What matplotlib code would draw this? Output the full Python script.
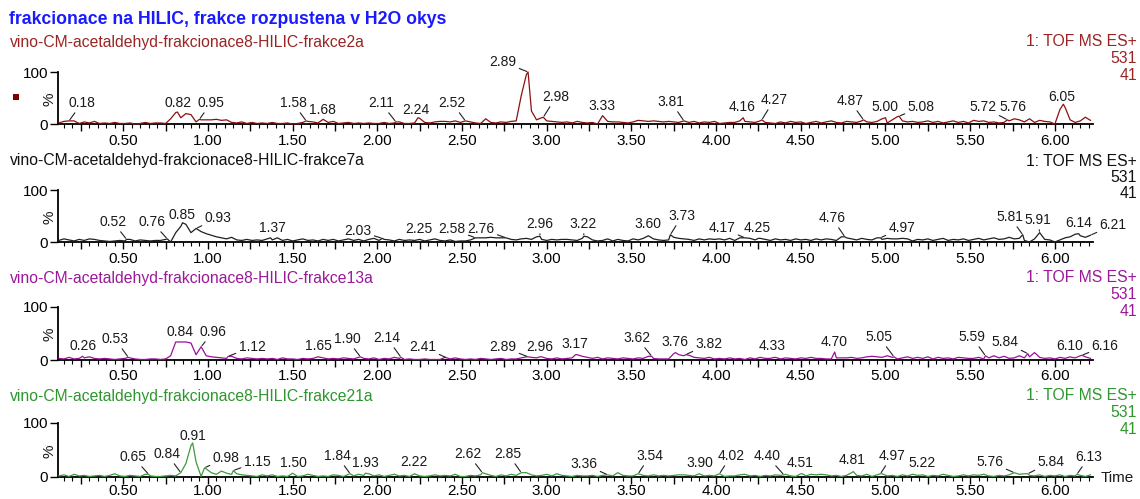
import numpy as np
import matplotlib
matplotlib.use("Agg")
import matplotlib.pyplot as plt
from matplotlib.patches import Rectangle

plt.rcParams['font.family'] = ['Liberation Sans', 'DejaVu Sans']

W, H = 1140, 499

title = "frakcionace na HILIC, frakce rozpustena v H2O okys"
sample_names = [
    "vino-CM-acetaldehyd-frakcionace8-HILIC-frakce2a",
    "vino-CM-acetaldehyd-frakcionace8-HILIC-frakce7a",
    "vino-CM-acetaldehyd-frakcionace8-HILIC-frakce13a",
    "vino-CM-acetaldehyd-frakcionace8-HILIC-frakce21a",
]
detector = "1: TOF MS ES+"
mass = "531"
scale_tag = "41"
x_tick_values = [0.50, 1.00, 1.50, 2.00, 2.50, 3.00, 3.50, 4.00, 4.50, 5.00, 5.50, 6.00]

# scan times (min) of the background trace
scan_t = np.round(0.12 + 0.03 * np.arange(204), 2)

trace_2a = [
    2, 5, 3, 6, 1, 4, 2, 5, 1, 2,
    1, 3, 1, 1, 2, 0, 1, 3, 1, 2,
    2, 1, 10, 22, 12, 20, 18, 4, 8, 8,
    8, 9, 7, 8, 3, 2, 4, 1, 3, 1,
    2, 1, 3, 1, 1, 2, 0, 1, 3, 5,
    4, 2, 9, 3, 5, 1, 2, 3, 1, 2,
    1, 2, 1, 1, 3, 1, 2, 4, 1, 1,
    2, 11, 3, 2, 4, 5, 5, 4, 6, 3,
    5, 4, 2, 1, 10, 3, 2, 4, 3, 5,
    6, 55, 95, 25, 8, 12, 6, 5, 4, 3,
    4, 2, 5, 3, 2, 3, 0, 16, 5, 4,
    4, 3, 2, 4, 7, 6, 5, 6, 5, 4,
    5, 4, 3, 6, 3, 5, 2, 4, 3, 5,
    1, 2, 3, 3, 6, 5, 4, 3, 6, 3,
    2, 1, 4, 2, 5, 3, 4, 1, 3, 5,
    2, 4, 6, 3, 2, 5, 4, 3, 6, 4,
    3, 5, 10, 2, 8, 14, 6, 4, 5, 3,
    4, 6, 3, 5, 2, 4, 6, 3, 5, 2,
    7, 5, 6, 3, 4, 2, 3, 6, 5, 8,
    4, 10, 3, 7, 5, 4, 0, 28, 32, 8,
    3, 6, 13, 7,
]
trace_7a = [
    3, 6, 4, 2, 5, 3, 6, 5, 3, 2,
    1, 2, 3, 2, 5, 2, 4, 3, 2, 3,
    3, 5, 0, 18, 30, 34, 18, 26, 20, 16,
    13, 10, 8, 6, 9, 4, 3, 5, 3, 4,
    3, 6, 4, 8, 3, 5, 2, 4, 6, 3,
    4, 2, 5, 3, 5, 2, 4, 6, 3, 5,
    2, 5, 7, 3, 5, 4, 2, 5, 3, 4,
    3, 5, 2, 4, 6, 3, 2, 4, 1, 2,
    2, 4, 6, 8, 8, 9, 8, 8, 3, 5,
    4, 6, 7, 5, 10, 5, 3, 5, 4, 5,
    5, 4, 3, 7, 10, 4, 2, 3, 6, 2,
    5, 3, 2, 6, 4, 7, 12, 6, 4, 3,
    4, 9, 7, 6, 5, 3, 6, 4, 6, 5,
    6, 4, 7, 3, 8, 6, 7, 4, 7, 5,
    3, 6, 4, 5, 3, 6, 4, 5, 3, 6,
    4, 6, 5, 3, 10, 8, 6, 4, 7, 5,
    4, 8, 5, 7, 6, 6, 7, 6, 2, 5,
    4, 6, 3, 5, 7, 3, 5, 4, 6, 3,
    5, 7, 4, 6, 8, 5, 6, 9, 6, 7,
    3, 0, 6, 18, 5, 4, 0, 4, 8, 10,
    15, 12, 9, 13,
]
trace_13a = [
    3, 2, 5, 2, 3, 4, 6, 3, 2, 3,
    2, 1, 2, 3, 4, 2, 1, 1, 2, 2,
    1, 2, 8, 34, 33, 34, 32, 10, 24, 8,
    6, 5, 4, 3, 7, 3, 2, 4, 3, 2,
    3, 2, 3, 1, 4, 2, 2, 1, 3, 2,
    3, 6, 4, 2, 3, 2, 4, 3, 2, 5,
    3, 2, 4, 1, 3, 2, 5, 3, 1, 2,
    1, 1, 2, 1, 1, 1, 5, 2, 4, 2,
    1, 2, 1, 3, 2, 1, 2, 3, 1, 2,
    2, 4, 6, 5, 4, 6, 3, 2, 4, 2,
    3, 4, 10, 7, 5, 3, 5, 2, 4, 3,
    2, 4, 3, 2, 4, 3, 7, 3, 2, 2,
    2, 12, 10, 8, 9, 5, 4, 3, 5, 2,
    3, 2, 4, 2, 3, 1, 4, 2, 5, 3,
    3, 5, 2, 4, 3, 2, 4, 3, 5, 3,
    3, 2, 2, 4, 4, 4, 5, 3, 4, 6,
    7, 6, 5, 8, 5, 2, 4, 6, 3, 5,
    3, 6, 2, 5, 3, 4, 2, 5, 4, 3,
    3, 5, 2, 4, 8, 4, 7, 3, 4, 8,
    4, 6, 14, 5, 3, 4, 2, 5, 3, 6,
    4, 8, 6, 3,
]
trace_21a = [
    2, 4, 1, 5, 2, 3, 1, 2, 3, 1,
    3, 6, 2, 1, 3, 2, 1, 5, 2, 1,
    1, 2, 3, 2, 8, 25, 58, 28, 1, 15,
    8, 5, 11, 7, 5, 6, 4, 3, 2, 1,
    4, 2, 4, 1, 2, 1, 7, 1, 2, 5,
    3, 1, 2, 1, 4, 3, 1, 5, 2, 5,
    3, 6, 2, 4, 1, 3, 5, 2, 3, 1,
    6, 2, 1, 2, 4, 2, 3, 2, 5, 1,
    1, 3, 2, 4, 6, 3, 1, 4, 2, 5,
    3, 6, 8, 4, 2, 3, 5, 2, 6, 3,
    2, 1, 3, 2, 2, 3, 1, 3, 5, 2,
    8, 3, 2, 2, 6, 3, 2, 4, 2, 3,
    2, 3, 4, 4, 3, 2, 6, 2, 3, 2,
    6, 1, 2, 2, 4, 5, 2, 3, 1, 3,
    2, 4, 3, 5, 2, 1, 6, 2, 5, 4,
    5, 4, 2, 3, 1, 3, 8, 3, 2, 5,
    1, 4, 6, 2, 3, 1, 4, 2, 5, 3,
    4, 1, 3, 2, 5, 3, 1, 2, 4, 2,
    4, 3, 5, 2, 1, 3, 2, 4, 8, 5,
    6, 3, 2, 4, 1, 3, 2, 4, 1, 3,
    2, 3, 1, 4,
]

# labelled peaks: retention time (min) and relative intensity (%)
peaks_2a_t = [0.18, 0.82, 0.95, 1.58, 1.68, 2.11, 2.24, 2.52, 2.89, 2.98,
              3.33, 3.81, 4.16, 4.27, 4.87, 5.00, 5.08, 5.72, 5.76, 6.05]
peaks_2a_h = [6, 23, 9, 6, 9, 4, 12, 6, 100, 13,
              16, 6, 12, 8, 8, 12, 15, 8, 10, 38]
peaks_7a_t = [0.52, 0.76, 0.85, 0.93, 1.37, 2.03, 2.25, 2.58, 2.76, 2.96, 3.22,
              3.60, 3.73, 4.17, 4.25, 4.76, 4.97, 5.81, 5.91, 6.14, 6.21]
peaks_7a_h = [5, 6, 37, 26, 8, 7, 5, 8, 8, 11, 11,
              12, 14, 8, 7, 10, 8, 14, 18, 16, 13]
peaks_13a_t = [0.26, 0.53, 0.84, 0.96, 1.12, 1.65, 1.90, 2.14, 2.41, 2.89, 2.96,
               3.17, 3.62, 3.76, 3.82, 4.33, 4.70, 5.05, 5.59, 5.84, 6.10, 6.16]
peaks_13a_h = [7, 5, 34, 25, 7, 6, 6, 5, 4, 6, 6,
               10, 7, 14, 10, 4, 15, 6, 8, 12, 5, 9]
peaks_21a_t = [0.65, 0.84, 0.91, 0.98, 1.15, 1.50, 1.84, 1.93, 2.22, 2.62, 2.85, 3.36,
               3.54, 3.90, 4.02, 4.40, 4.51, 4.81, 4.97, 5.22, 5.76, 5.84, 6.13]
peaks_21a_h = [5, 8, 63, 17, 12, 7, 6, 7, 6, 8, 8, 4,
               6, 6, 6, 4, 6, 10, 6, 4, 8, 6, 5]

# label text centres, figure pixels measured from the top-left corner
label_xy_2a = [(82, 103), (178, 103), (211, 103), (293, 103), (322, 110), (381, 103),
               (416, 110), (452, 103), (503, 62), (556, 97), (602, 106), (671, 102),
               (742, 107), (774, 100), (850, 101), (885, 107), (921, 107), (983, 107),
               (1013, 107), (1062, 97)]
label_xy_7a = [(113, 222), (152, 222), (182, 215), (218, 218), (272, 228), (358, 231),
               (419, 229), (452, 229), (481, 229), (540, 224), (583, 224), (648, 224),
               (682, 216), (722, 228), (757, 228), (832, 218), (902, 228), (1010, 217),
               (1038, 220), (1079, 223), (1113, 225)]
label_xy_13a = [(83, 346), (115, 339), (180, 332), (213, 332), (252, 347), (318, 346),
                (347, 339), (387, 338), (423, 347), (503, 347), (540, 347), (575, 344),
                (637, 338), (675, 342), (709, 344), (772, 346), (834, 342), (879, 337),
                (972, 337), (1005, 342), (1070, 346), (1105, 346)]
label_xy_21a = [(133, 457), (167, 454), (193, 436), (226, 458), (257, 462), (293, 463),
                (337, 456), (365, 463), (414, 462), (468, 454), (508, 454), (584, 464),
                (650, 456), (700, 463), (731, 456), (767, 456), (800, 463), (852, 460),
                (892, 456), (922, 463), (990, 462), (1051, 462), (1089, 457)]

panels = [
    (trace_2a, peaks_2a_t, peaks_2a_h, label_xy_2a, '#8c1010', '#9a2424'),
    (trace_7a, peaks_7a_t, peaks_7a_h, label_xy_7a, '#202020', '#101010'),
    (trace_13a, peaks_13a_t, peaks_13a_h, label_xy_13a, '#9a109a', '#9a189a'),
    (trace_21a, peaks_21a_t, peaks_21a_h, label_xy_21a, '#3c9a3c', '#2e962e'),
]

# axis frame of each panel in pixels: (y of 0 %, y of 100 %), from the top
frames = [(124, 72), (242, 190), (360, 307), (477, 423)]
tick_pad = [2.5, 2.5, 1.5, 0.2]
subtitle_y = [42, 161, 278, 396]
ax_left, ax_right = 58, 1093
t_min, t_max = 0.115, 6.225

fig = plt.figure(figsize=(W / 100, H / 100), dpi=100)
fig.patch.set_facecolor('white')

fig.text(9 / W, 1 - 19 / H, title, fontsize=12.7, fontweight='bold',
         color='#1a1aff', ha='left', va='center')


def merge(trace, pk_t, pk_h):
    pts = {float(t): v for t, v in zip(scan_t, trace)}
    for t, v in zip(pk_t, pk_h):
        pts[round(t, 2)] = v
    ts = sorted(pts)
    return ts, [pts[t] for t in ts]


for i, (trace, pk_t, pk_h, lab_xy, line_c, text_c) in enumerate(panels):
    y0, y100 = frames[i]
    ax = fig.add_axes([ax_left / W, (H - y0) / H, (ax_right - ax_left) / W, (y0 - y100) / H])
    ax.set_xlim(t_min, t_max)
    ax.set_ylim(0, 100)
    ax.set_facecolor('none')
    for s in ('top', 'right'):
        ax.spines[s].set_visible(False)
    for s in ('left', 'bottom'):
        ax.spines[s].set_linewidth(1.3)
        ax.spines[s].set_color('black')

    ts, ys = merge(trace, pk_t, pk_h)
    ax.plot(ts, ys, color=line_c, lw=0.9, clip_on=False, zorder=3)

    # x ticks: labelled every 0.5, longer every 0.25, short every 0.05
    major = np.round(np.arange(0.25, 6.01, 0.25), 2)
    ax.set_xticks(major)
    ax.set_xticklabels([f"{v:.2f}" if v in x_tick_values else "" for v in major])
    ax.set_xticks(np.round(np.arange(0.15, 6.23, 0.05), 2), minor=True)
    ax.tick_params(axis='x', which='major', length=5, width=1, pad=tick_pad[i],
                   labelsize=11, direction='out')
    ax.tick_params(axis='x', which='minor', length=3, width=0.8, direction='out')
    ax.set_yticks([0, 100])
    ax.set_yticklabels(['0', '100'])
    ax.tick_params(axis='y', which='major', length=6, width=1, pad=1, labelsize=11, direction='out')

    # peak labels with leader lines where the label sits away from the apex
    for (t, h, (lx, ly)) in zip(pk_t, pk_h, lab_xy):
        px, py = ax.transData.transform((t, h))
        fy = H - ly
        gap = (fy - 6) - py
        dx = lx - px
        props = None
        if gap > 6 or abs(dx) > 9:
            props = dict(arrowstyle='-', color='#202020', lw=0.8, shrinkA=0, shrinkB=1)
        ax.annotate(f"{t:.2f}", xy=(t, h), xytext=(lx, fy), textcoords='figure pixels',
                    ha='center', va='center', fontsize=10, color='#1a1a1a',
                    annotation_clip=False, arrowprops=props, zorder=4)

    # panel header
    ys_ = subtitle_y[i]
    fig.text(10 / W, 1 - ys_ / H, sample_names[i], fontsize=11.3, color=text_c,
             ha='left', va='center')
    fig.text(1137 / W, 1 - ys_ / H, detector, fontsize=11.3, color=text_c, ha='right', va='center')
    fig.text(1137 / W, 1 - (ys_ + 16.5) / H, mass, fontsize=11.3, color=text_c, ha='right', va='center')
    fig.text(1137 / W, 1 - (ys_ + 33) / H, scale_tag, fontsize=11.3, color=text_c, ha='right', va='center')
    fig.text(49 / W, 1 - ((y0 + y100) / 2 + 1) / H, '%', fontsize=11, rotation=90,
             ha='center', va='center', color='#1a1a1a')

fig.text(1117 / W, 1 - 478 / H, 'Time', fontsize=11, ha='center', va='center', color='#1a1a1a')

# trace-colour marker of the first panel
fig.add_artist(Rectangle((13 / W, 1 - 100 / H), 6 / W, 6 / H, transform=fig.transFigure,
                         facecolor='#7a0000', edgecolor='none'))

fig.savefig('out.png', dpi=100, facecolor='white')
